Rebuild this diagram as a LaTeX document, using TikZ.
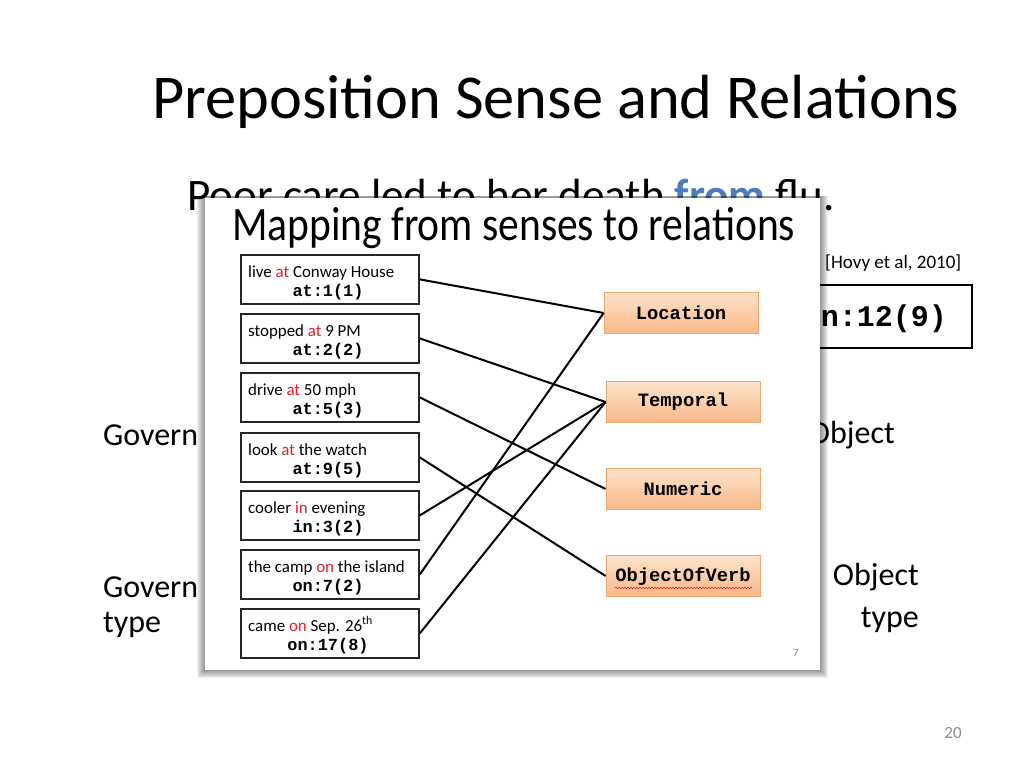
\documentclass[tikz,border=0pt]{standalone}
\usepackage{fontspec}
\setmainfont{Carlito}
\newfontfamily\codefont{Liberation Mono}
\usetikzlibrary{decorations.pathmorphing}
\definecolor{fromblue}{HTML}{4A7EBB}
\definecolor{redword}{HTML}{E41E26}
\definecolor{peachtop}{HTML}{FDE3CC}
\definecolor{peachbot}{HTML}{F8B887}
\definecolor{peachedge}{HTML}{F1A86E}
\definecolor{pagegray}{HTML}{8C8C8C}
\tikzset{
  txt/.style={inner sep=0pt, anchor=base west},
  txtr/.style={inner sep=0pt, anchor=base east},
  sensebox/.style={draw=black!85, line width=1.8pt, minimum width=178pt, minimum height=49pt, inner sep=0pt, anchor=north west},
  sensetxt/.style={inner sep=0pt, anchor=base west, font=\fontsize{16.9}{18}\selectfont},
  sensecode/.style={inner sep=0pt, anchor=base, font=\codefont\bfseries\fontsize{16.9}{18}\selectfont},
  relbox/.style={draw=peachedge, line width=0.8pt, top color=peachtop, bottom color=peachbot, minimum width=154pt, minimum height=41pt, inner sep=0pt, font=\codefont\bfseries\fontsize{18.8}{20}\selectfont},
  link/.style={line width=2pt, black},
  sidetxt/.style={font=\fontsize{32}{36}\selectfont},
}
\newcommand{\rw}[1]{\textcolor{redword}{#1}}
\begin{document}
\begin{tikzpicture}[x=1pt,y=-1pt]
\useasboundingbox (0,0) rectangle (1024,768);
\fill[white] (0,0) rectangle (1024,768);
% slide texts
\node[txt, font=\fontsize{62.4}{70}\selectfont] (title) at (152,118) {Preposition Sense and Relations};
\node[txt, font=\fontsize{45.1}{52}\selectfont] (sent) at (187,210) {Poor care led to her death \textcolor{fromblue}{\bfseries from} flu.};
\node[txt, font=\fontsize{19}{22}\selectfont] (cite) at (825,268) {[Hovy et al, 2010]};
\node[draw=black, line width=2.2pt, minimum width=200pt, minimum height=63pt, inner sep=0pt, anchor=north east] (codebox) at (973,284) {};
\node[txtr, font=\codefont\bfseries\fontsize{30}{34}\selectfont] (codetxt) at (947,326) {n:12(9)};
\node[txt, sidetxt] (gov1) at (103,445) {Govern};
\node[txt, sidetxt] (gov2) at (103,597) {Govern};
\node[txt, sidetxt] (gov2b) at (103,632) {type};
\node[txtr, sidetxt] (obj1) at (895,443) {Object};
\node[txtr, sidetxt] (obj2) at (919,585) {Object};
\node[txtr, sidetxt] (obj2b) at (919,627) {type};
\node[inner sep=0pt, anchor=base, text=pagegray, font=\fontsize{17}{20}\selectfont] (pnum) at (953,738) {20};
% panel with shadow
\foreach \i in {1,...,8} {
  \fill[black, opacity=0.06] (205-\i,196) rectangle (820+\i,670+\i);
}
\fill[white] (205,198) rectangle (820,670);
\node[txt] (ptitle) at (232,240) {\scalebox{0.865}[1]{\fontsize{48}{52}\selectfont Mapping from senses to relations}};
\node[inner sep=0pt, anchor=base, text=pagegray, font=\fontsize{11}{13}\selectfont] (pnum7) at (796,656) {7};
% sense boxes
\node[sensebox] (s1) at (240,254) {};
\node[sensetxt] (s1t) at (248,277) {live \rw{at} Conway House};
\node[sensecode] (s1c) at (328,296) {at:1(1)};
\node[sensebox] (s2) at (240,313) {};
\node[sensetxt] (s2t) at (248,336) {stopped \rw{at} 9 PM};
\node[sensecode] (s2c) at (328,355) {at:2(2)};
\node[sensebox] (s3) at (240,372) {};
\node[sensetxt] (s3t) at (248,395) {drive \rw{at} 50 mph};
\node[sensecode] (s3c) at (328,414) {at:5(3)};
\node[sensebox] (s4) at (240,432) {};
\node[sensetxt] (s4t) at (248,455) {look \rw{at} the watch};
\node[sensecode] (s4c) at (328,474) {at:9(5)};
\node[sensebox] (s5) at (240,490) {};
\node[sensetxt] (s5t) at (248,513) {cooler \rw{in} evening};
\node[sensecode] (s5c) at (328,532) {in:3(2)};
\node[sensebox] (s6) at (240,549) {};
\node[sensetxt] (s6t) at (248,572) {the camp \rw{on} the island};
\node[sensecode] (s6c) at (328,591) {on:7(2)};
\node[sensebox] (s7) at (240,608) {};
\node[sensetxt] (s7t) at (248,631) {came \rw{on} Sep. 26\textsuperscript{th}};
\node[sensecode] (s7c) at (328,650) {on:17(8)};
% relation boxes
\node[relbox] (loc) at (681,313) {Location};
\node[relbox] (tem) at (683,402) {Temporal};
\node[relbox] (num) at (683,489) {Numeric};
\node[relbox] (ovb) at (683,576) {ObjectOfVerb};
\coordinate (wavyA) at (615,588);
\coordinate (wavyB) at (752,588);
\draw[redword, line width=0.5pt, decorate, decoration={snake, amplitude=0.8pt, segment length=3pt}] (wavyA) -- (wavyB);
% connectors
\draw[link] (s1.east) -- (loc.west);
\draw[link] (s2.east) -- (tem.west);
\draw[link] (s3.east) -- (num.west);
\draw[link] (s4.east) -- (ovb.west);
\draw[link] (s5.east) -- (tem.west);
\draw[link] (s6.east) -- (loc.west);
\draw[link] (s7.east) -- (tem.west);
\end{tikzpicture}
\end{document}
